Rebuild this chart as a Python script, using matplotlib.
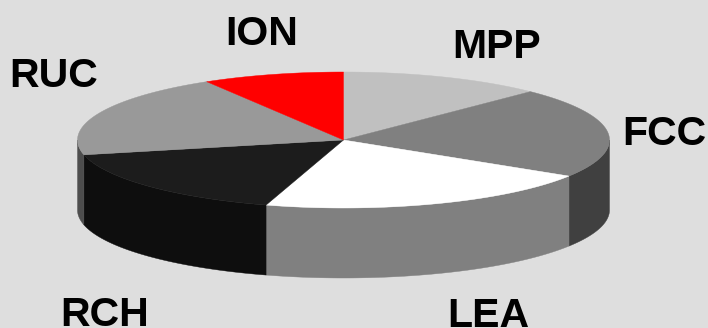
import numpy as np
import matplotlib
matplotlib.use("Agg")
import matplotlib.pyplot as plt

categories = ["MPP", "FCC", "LEA", "RCH", "RUC", "ION"]
values = [12.4, 21.5, 20.8, 16.8, 19.9, 8.6]
top_colors = ["#c0c0c0", "#808080", "#ffffff", "#1c1c1c", "#999999", "#ff0000"]
side_colors = ["#606060", "#404040", "#808080", "#0e0e0e", "#4d4d4d", "#800000"]
label_xy = [(497, 58), (664, 145), (488, 327), (105, 326), (54, 87), (262, 45)]

W, H = 708, 328
cx, cy, rx, ry, depth = 343.5, 140, 266, 68, 70
BG = "#dedede"

plt.rcParams["font.family"] = ["Liberation Sans", "DejaVu Sans"]
fig = plt.figure(figsize=(W / 100, H / 100), dpi=100, facecolor=BG)
ax = fig.add_axes([0, 0, 1, 1])
ax.set_xlim(0, W)
ax.set_ylim(H, 0)
ax.axis("off")


def rim(a0, a1, dy=0.0):
    t = np.radians(np.linspace(a0, a1, 120))
    return cx + rx * np.cos(t), cy - ry * np.sin(t) + dy


fractions = np.array(values) / np.sum(values)
starts = 90 - 360 * np.concatenate([[0], np.cumsum(fractions)[:-1]])
ends = starts - 360 * fractions

# Side wall: only the front half of the rim (screen-lower part) is visible
for a_start, a_end, col in zip(starts, ends, side_colors):
    for lo, hi in [(-180, 0), (180, 360), (-540, -360)]:
        a0, a1 = max(a_end, lo), min(a_start, hi)
        if a1 > a0:
            x, y = rim(a0, a1)
            xb, yb = rim(a1, a0, depth)
            ax.fill(np.r_[x, xb], np.r_[y, yb], color=col, lw=0.3, zorder=2)

# Top face
for a_start, a_end, col in zip(starts, ends, top_colors):
    x, y = rim(a_end, a_start)
    ax.fill(np.r_[cx, x], np.r_[cy, y], color=col, lw=0.3, zorder=3)

for name, (tx, ty) in zip(categories, label_xy):
    ax.text(tx, ty, name, ha="center", va="baseline", fontsize=29.5,
            fontweight="bold", color="black", zorder=4)

fig.savefig("out.png", dpi=100, facecolor=BG)
